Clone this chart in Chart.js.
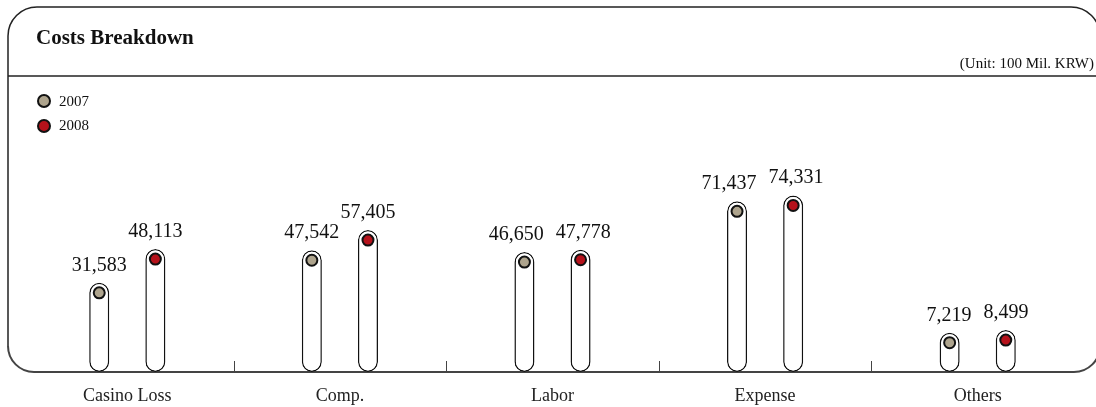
<!DOCTYPE html>
<html>
<head>
<meta charset="utf-8">
<script src="https://cdn.jsdelivr.net/npm/chart.js@4/dist/chart.umd.min.js"></script>
<style>
  body { margin: 0; background: #fff; }
  #wrap { position: relative; width: 1096px; height: 407px; overflow: hidden; font-family: "Liberation Serif", "DejaVu Serif", serif; color: #111; }
  #wrap canvas { position: absolute; left: 0; top: 0; }
  .txt { position: absolute; line-height: 1; white-space: nowrap; }
  #title { left: 36px; top: 27px; font-size: 21px; font-weight: bold; }
  #unit { right: 2px; top: 56px; font-size: 15px; }
  .leg { left: 59px; font-size: 15px; }
  .dot { position: absolute; width: 10px; height: 10px; border: 2px solid #111; border-radius: 50%; }
</style>
</head>
<body>
<div id="wrap">
  <canvas id="chart" width="1096" height="407"></canvas>
  <div class="txt" id="title">Costs Breakdown</div>
  <div class="txt" id="unit">(Unit: 100 Mil. KRW)</div>
  <div class="dot" style="left:37px; top:94px; background:#aea48d"></div>
  <div class="txt leg" style="top:94px">2007</div>
  <div class="dot" style="left:37px; top:119px; background:#b5121b"></div>
  <div class="txt leg" style="top:118px">2008</div>
</div>
<script>
var categories = ['Casino Loss', 'Comp.', 'Labor', 'Expense', 'Others'];
var values2007 = [31583, 47542, 46650, 71437, 7219];
var values2008 = [48113, 57405, 47778, 74331, 8499];
var dotColors = ['#aea48d', '#b5121b'];
var yMin = -12000, yMax = 88000; // capsules start below zero so the small ones keep room for their dot

// frame, header rule, baseline and the small category separators
var framePlugin = {
    id: 'frame',
    beforeDraw: function (chart) {
        let ctx = chart.ctx;
        let base = chart.chartArea.bottom;
        ctx.save();
        ctx.strokeStyle = '#222';
        ctx.lineWidth = 1.5;
        ctx.beginPath();
        ctx.moveTo(8, base - 26);
        ctx.lineTo(8, 36);
        ctx.arcTo(8, 7, 38, 7, 29);
        ctx.lineTo(1071, 7);
        ctx.arcTo(1100, 7, 1100, 36, 29);
        ctx.lineTo(1100, base - 26);
        ctx.stroke();
        ctx.beginPath();
        ctx.moveTo(8, 76);
        ctx.lineTo(1096, 76);
        ctx.stroke();
        ctx.strokeStyle = '#444';
        ctx.lineWidth = 2;
        ctx.beginPath();
        ctx.moveTo(8, base - 26);
        ctx.arcTo(8, base, 34, base, 26);
        ctx.lineTo(1074, base);
        ctx.arcTo(1100, base, 1100, base - 26, 26);
        ctx.stroke();
        let xs = chart.scales.x;
        ctx.lineWidth = 1;
        ctx.beginPath();
        for (let i = 0; i < categories.length - 1; i++) {
            let x = Math.round((xs.getPixelForValue(i) + xs.getPixelForValue(i + 1)) / 2) + 0.5;
            ctx.moveTo(x, base);
            ctx.lineTo(x, base - 11);
        }
        ctx.stroke();
        ctx.restore();
    }
};

// dot at the top of each capsule and the value above it
var dotPlugin = {
    id: 'dots',
    afterDatasetsDraw: function (chart) {
        let ctx = chart.ctx;
        ctx.save();
        ctx.font = '20px "Liberation Serif"';
        let m0 = chart.getDatasetMeta(0), m1 = chart.getDatasetMeta(1);
        chart.data.datasets.forEach(function (ds, di) {
            let meta = chart.getDatasetMeta(di);
            meta.data.forEach(function (bar, i) {
                ctx.beginPath();
                ctx.arc(bar.x, bar.y + 10, 5.5, 0, Math.PI * 2);
                ctx.fillStyle = dotColors[di];
                ctx.fill();
                ctx.lineWidth = 2;
                ctx.strokeStyle = '#111';
                ctx.stroke();

                let txt = ds.data[i].toLocaleString('en-US');
                let x = bar.x;
                // push a pair of labels apart when they sit on the same line and would touch
                let a = m0.data[i], b = m1.data[i];
                let wa = ctx.measureText(values2007[i].toLocaleString('en-US')).width;
                let wb = ctx.measureText(values2008[i].toLocaleString('en-US')).width;
                let gap = (b.x - wb / 2) - (a.x + wa / 2);
                if (gap < 12 && Math.abs(a.y - b.y) < 12) {
                    let need = 12 - gap;
                    x += di === 0 ? -need * 0.75 : need * 0.25;
                }
                ctx.fillStyle = '#111';
                ctx.textAlign = 'center';
                ctx.textBaseline = 'alphabetic';
                ctx.fillText(txt, x, bar.y - 12);
            });
        });
        ctx.restore();
    }
};

function barSet(label, data) {
    return {
        label: label,
        data: data,
        base: yMin,
        backgroundColor: '#fff',
        borderColor: '#111',
        borderWidth: 1.5,
        borderRadius: 10,
        borderSkipped: false,
        categoryPercentage: 0.528,
        barPercentage: 0.357
    };
}

new Chart(document.getElementById('chart'), {
    type: 'bar',
    data: {
        labels: categories,
        datasets: [barSet('2007', values2007), barSet('2008', values2008)]
    },
    options: {
        responsive: false,
        animation: false,
        layout: { padding: { left: 21, right: 12, top: 167.5, bottom: 0 } },
        plugins: { legend: { display: false }, tooltip: { enabled: false } },
        scales: {
            x: {
                grid: { display: false, drawTicks: false },
                border: { display: false },
                ticks: { color: '#222', padding: 13, font: { family: 'Liberation Serif', size: 18 } },
                afterFit: function (scale) { scale.height = 35; }
            },
            y: { display: false, min: yMin, max: yMax }
        }
    },
    plugins: [framePlugin, dotPlugin]
});
</script>
</body>
</html>
